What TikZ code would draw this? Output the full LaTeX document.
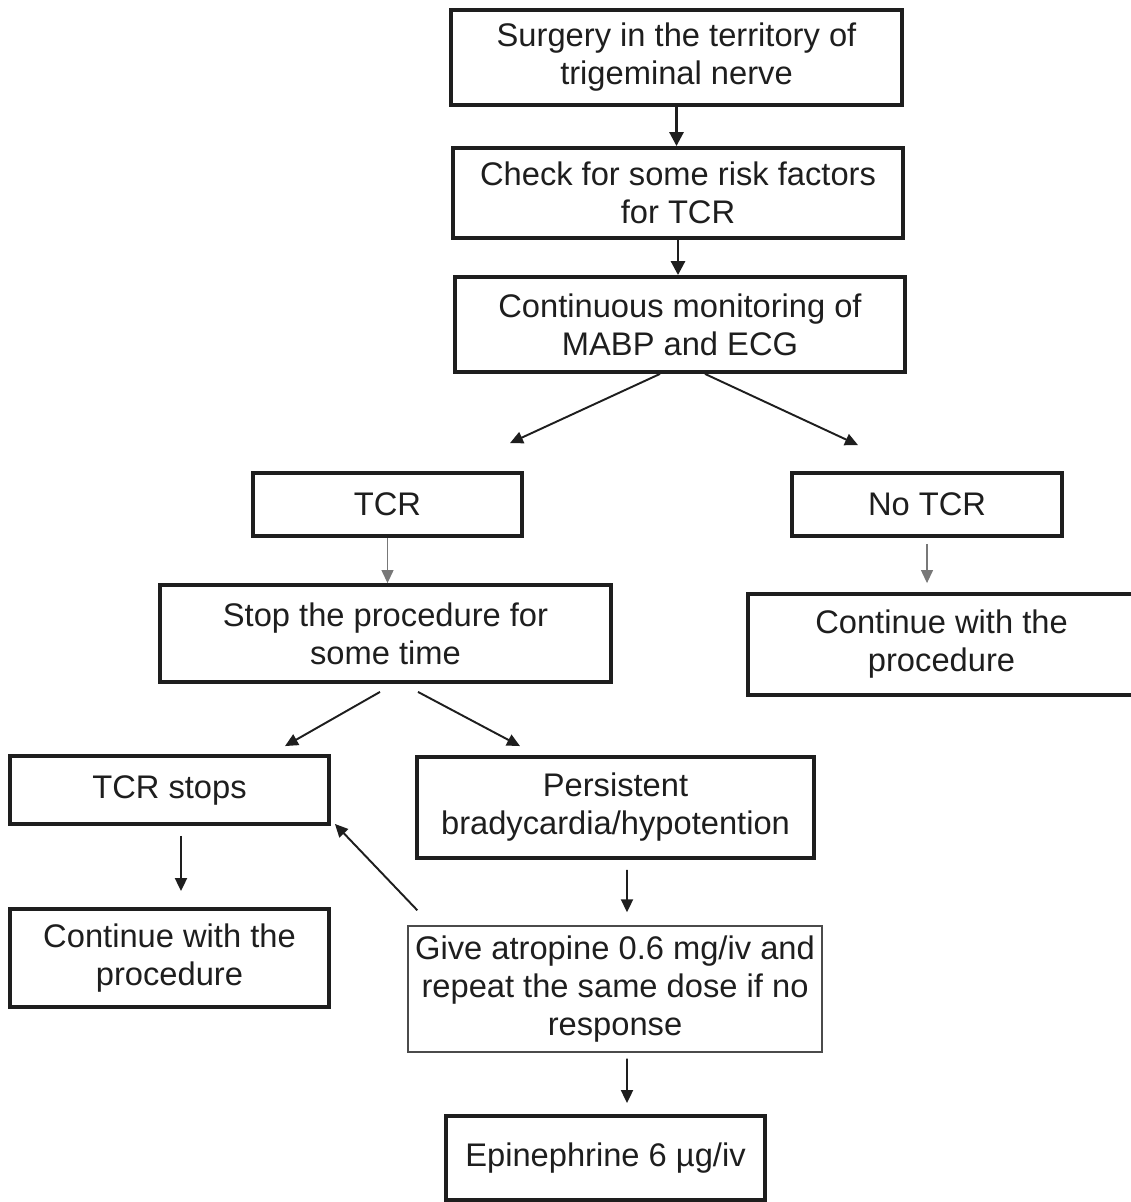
\documentclass[tikz,border=0pt]{standalone}
\usepackage{fontspec}
\setmainfont{Liberation Sans}
\usepackage{xcolor}
\definecolor{tcrink}{RGB}{30,30,30}
\definecolor{tcrgray}{RGB}{120,120,120}
\usetikzlibrary{arrows.meta,positioning}

\begin{document}
\begin{tikzpicture}[x=0.02cm, y=-0.02cm,
    font=\fontsize{18.6}{21.6}\selectfont, text=tcrink,
    box/.style={rectangle, draw=tcrink, line width=2.2pt, inner sep=2pt, align=center},
    thinbox/.style={rectangle, draw=tcrink!80, line width=0.8pt, inner sep=2pt, align=center},
    bigarr/.style={-{Triangle[length=0.28cm, width=0.28cm]}, line width=1.6pt, tcrink},
    arr/.style={-{Triangle[length=0.26cm, width=0.24cm]}, line width=1.1pt, tcrink},
    grayarr/.style={-{Triangle[length=0.26cm, width=0.24cm]}, line width=0.7pt, tcrgray}]
    \useasboundingbox (0,0) rectangle (1131,1202);

    % top chain
    \node[box, minimum width=9.02cm, minimum height=1.9cm] (surg) at (676.5,57.5)
      {Surgery in the territory of\\ trigeminal nerve};
    \node[box, minimum width=9.0cm, minimum height=1.8cm] (check) at (678,193)
      {Check for some risk factors\\ for TCR};
    \node[box, minimum width=9.0cm, minimum height=1.9cm] (monit) at (680,324.5)
      {Continuous monitoring of\\ MABP and ECG};

    % TCR / No TCR
    \node[box, minimum width=5.38cm, minimum height=1.26cm] (tcr) at (387.5,504.5) {TCR};
    \node[box, minimum width=5.4cm, minimum height=1.26cm] (notcr) at (927,504.5) {No TCR};
    \node[box, minimum width=9.02cm, minimum height=1.94cm] (stop) at (385.5,633.5)
      {Stop the procedure for\\ some time};
    \node[box, minimum width=7.74cm, minimum height=2.02cm] (contR) at (941.5,644.5)
      {Continue with the\\ procedure};

    % lower branch
    \node[box, minimum width=6.38cm, minimum height=1.36cm] (tcrstop) at (169.5,790) {TCR stops};
    \node[box, minimum width=7.94cm, minimum height=2.02cm] (persist) at (615.5,807.5)
      {Persistent\\ bradycardia/hypotention};
    \node[box, minimum width=6.38cm, minimum height=1.96cm] (contL) at (169.5,958)
      {Continue with the\\ procedure};
    \node[thinbox, minimum width=8.28cm, minimum height=2.52cm] (atrop) at (615,989)
      {Give atropine 0.6 mg/iv and\\ repeat the same dose if no\\ response};
    \node[box, minimum width=6.38cm, minimum height=1.68cm] (epi) at (605.5,1158)
      {Epinephrine 6 µg/iv};

    % Arrows
    \draw[bigarr] (surg.south) -- (surg.south |- check.north);
    \draw[bigarr] (check.south) -- (check.south |- monit.north);
    \draw[arr] ([shift={(-20,0)}]monit.south) -- ([shift={(122.5,-28)}]tcr.north);
    \draw[arr] ([shift={(25,0)}]monit.south) -- ([shift={(-69,-26)}]notcr.north);
    \draw[grayarr] (tcr.south) -- (tcr.south |- stop.north);
    \draw[grayarr, shorten <=0.12cm, shorten >=0.18cm] (notcr.south) -- (notcr.south |- contR.north);
    \draw[arr] ([shift={(-5.5,8)}]stop.south) -- ([shift={(115.5,-8)}]tcrstop.north);
    \draw[arr] ([shift={(32.5,8)}]stop.south) -- ([shift={(-95.5,-9)}]persist.north);
    \draw[arr] ([shift={(11.5,10)}]tcrstop.south) -- ([shift={(11.5,-16)}]contL.north);
    \draw[arr] ([shift={(11.5,10)}]persist.south) -- ([shift={(12,-13)}]atrop.north);
    \draw[arr] ([shift={(10,-15)}]atrop.north west) -- ([shift={(4,-2)}]tcrstop.south east);
    \draw[arr] ([shift={(12,6)}]atrop.south) -- ([shift={(21.5,-11)}]epi.north);
\end{tikzpicture}
\end{document}
